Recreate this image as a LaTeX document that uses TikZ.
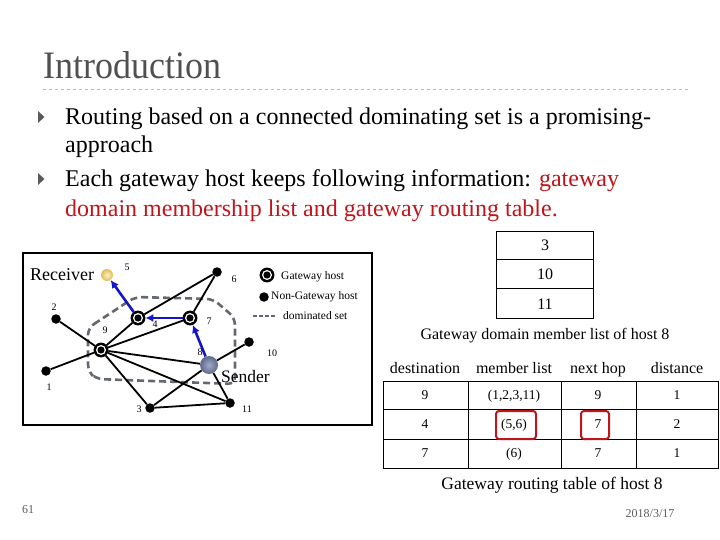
\documentclass[tikz,border=0pt]{standalone}
\usepackage{fontspec}
\setmainfont{Liberation Serif}
\usetikzlibrary{arrows.meta}
\definecolor{titlegray}{RGB}{80,80,80}
\definecolor{slidered}{RGB}{192,20,28}
\definecolor{arrowblue}{RGB}{20,20,200}
\definecolor{domgray}{RGB}{100,104,112}
\definecolor{rulegray}{RGB}{185,185,185}
\definecolor{footgray}{RGB}{90,90,90}
\definecolor{sendin}{RGB}{160,170,200}
\definecolor{sendout}{RGB}{95,105,140}
\definecolor{recin}{RGB}{255,245,200}
\definecolor{recout}{RGB}{225,185,85}
\begin{document}
\begin{tikzpicture}[x=1pt,y=-1pt,
  host/.style={circle,fill=black,inner sep=0pt,minimum size=9.5pt},
  gw/.style={circle,inner sep=0pt,minimum size=13pt,fill=black,draw=black,line width=1.8pt,
    path picture={\fill[white] (path picture bounding box.center) circle (5pt);
                  \fill[black] (path picture bounding box.center) circle (3.6pt);}},
  num/.style={font=\fontsize{10}{12}\selectfont,inner sep=0pt},
  edge/.style={line width=1.8pt,black},
  barrow/.style={line width=2.6pt,arrowblue,-{Latex[length=8pt,width=8pt]}},
  domline/.style={domgray,line width=2.6pt,dash pattern=on 7pt off 4pt},
  bodytext/.style={anchor=base west,inner sep=0pt,font=\fontsize{24}{28}\selectfont},
  cell/.style={anchor=base,font=\fontsize{13.5}{15}\selectfont,inner sep=0pt},
  hdr/.style={anchor=base,font=\fontsize{16}{18}\selectfont,inner sep=0pt},
  redbox/.style={draw=slidered,line width=2pt,rounded corners=3pt}
]
\useasboundingbox (0,0) rectangle (720,540);
% title
\node[anchor=base west,inner sep=0pt,text=titlegray,font=\fontsize{36}{40}\selectfont,yscale=1.08] (title) at (43,79) {Introduction};
\draw[rulegray,dashed,line width=0.8pt] (43,89) -- (688,89);
% bullets
\fill[footgray] (38,111) -- (44.5,117) -- (38,123) -- cycle;
\fill[footgray] (38,173) -- (44.5,179) -- (38,185) -- cycle;
\node[bodytext] (b1) at (65,125) {Routing based on a connected dominating set is a promising-};
\node[bodytext] (b2) at (65,153) {approach};
\node[bodytext] (b3) at (65,187) {Each gateway host keeps following information: \textcolor{slidered}{gateway}};
\node[bodytext,text=slidered] (b4) at (65,216) {domain membership list and gateway routing table.};
% graph frame
\draw[line width=1.8pt] (23,253) rectangle (372,425);
% dominated set region
\draw[domline,rounded corners=7pt] (88,328) -- (135,297) -- (213,299) -- (235,318) -- (235,384) -- (96,379) -- (88,371) -- cycle;
% nodes
\node[circle,inner sep=0pt,minimum size=12pt,inner color=recin,outer color=recout] (n5) at (107,275) {};
\node[host] (n6) at (217,272) {};
\node[gw] (n4) at (138,318) {};
\node[gw] (n7) at (190,318) {};
\node[host] (n2) at (56,319) {};
\node[gw] (n9) at (101,350) {};
\node[host] (n1) at (46,371) {};
\node[circle,inner sep=0pt,minimum size=18pt,inner color=sendin,outer color=sendout] (n8) at (209,365) {};
\node[host] (n10) at (249,342) {};
\node[host] (n3) at (150,408) {};
\node[host] (n11) at (230,403) {};
% edges
\draw[edge] (n2) -- (n9);
\draw[edge] (n1) -- (n9);
\draw[edge] (n9) -- (n4);
\draw[edge] (n9) -- (n7);
\draw[edge] (n9) -- (n8);
\draw[edge] (n9) -- (n3);
\draw[edge] (n9) -- (n11);
\draw[edge] (n4) -- (n6);
\draw[edge] (n7) -- (n6);
\draw[edge] (n8) -- (n10);
\draw[edge] (n8) -- (n3);
\draw[edge] (n8) -- (n11);
\draw[edge] (n3) -- (n11);
% blue route
\draw[barrow] (n8) -- (n7);
\draw[barrow] (n7) -- (n4);
\draw[barrow] (n4) -- (n5);
% labels
\node[anchor=base west,inner sep=0pt,font=\fontsize{18}{20}\selectfont] (recv) at (30,280) {Receiver};
\node[anchor=base west,inner sep=0pt,font=\fontsize{17.5}{20}\selectfont] (send) at (221,382) {Sender};
\node[num] (l5) at (127,267) {5};
\node[num] (l6) at (234,279) {6};
\node[num] (l4) at (155,324) {4};
\node[num] (l7) at (209,321) {7};
\node[num] (l2) at (54,307) {2};
\node[num] (l9) at (105,330) {9};
\node[num] (l1) at (49,387) {1};
\node[num] (l8) at (200,352) {8};
\node[num] (l10) at (272,353) {10};
\node[num] (l3) at (139,409) {3};
\node[num] (l11) at (247,409) {11};
% legend
\node[gw] (lg1) at (267,275) {};
\node[anchor=west,inner sep=0pt,font=\fontsize{11.5}{13}\selectfont] (lt1) at (281,277) {Gateway host};
\node[host] (lg2) at (264,297) {};
\node[anchor=west,inner sep=0pt,font=\fontsize{11.5}{13}\selectfont] (lt2) at (271,297) {Non-Gateway host};
\coordinate (lda) at (253,316);
\coordinate (ldb) at (276,316);
\draw[domgray,line width=1.6pt,dash pattern=on 4pt off 2pt] (lda) -- (ldb);
\node[anchor=west,inner sep=0pt,font=\fontsize{11.5}{13}\selectfont] (lt3) at (283,316) {dominated set};
% member list
\draw[line width=0.8pt] (496,231) rectangle (593,318);
\draw[line width=0.8pt] (496,259) -- (593,259);
\draw[line width=0.8pt] (496,288) -- (593,288);
\node[hdr] (m1) at (545,251) {3};
\node[hdr] (m2) at (545,279) {10};
\node[hdr] (m3) at (545,309) {11};
\node[hdr] (mcap) at (545,339) {Gateway domain member list of host 8};
% routing table
\node[hdr] (h1) at (425,373) {destination};
\node[hdr] (h2) at (514,373) {member list};
\node[hdr] (h3) at (598,373) {next hop};
\node[hdr] (h4) at (677,373) {distance};
\draw[line width=0.8pt] (383,381) rectangle (718,468);
\draw[line width=0.8pt] (383,409) -- (718,409);
\draw[line width=0.8pt] (383,439) -- (718,439);
\draw[line width=0.8pt] (468,381) -- (468,468);
\draw[line width=0.8pt] (561,381) -- (561,468);
\draw[line width=0.8pt] (636,381) -- (636,468);
\node[cell] (c11) at (425,399.5) {9};
\node[cell] (c12) at (514,399.5) {(1,2,3,11)};
\node[cell] (c13) at (598,399.5) {9};
\node[cell] (c14) at (677,399.5) {1};
\node[cell] (c21) at (425,428.5) {4};
\node[cell] (c22) at (514,428.5) {(5,6)};
\node[cell] (c23) at (598,428.5) {7};
\node[cell] (c24) at (677,428.5) {2};
\node[cell] (c31) at (425,457.5) {7};
\node[cell] (c32) at (514,457.5) {(6)};
\node[cell] (c33) at (598,457.5) {7};
\node[cell] (c34) at (677,457.5) {1};
\draw[redbox] (496,411) rectangle (536,439);
\draw[redbox] (581,411) rectangle (609,439);
\node[hdr,font=\fontsize{17.5}{20}\selectfont] (rcap) at (552,489) {Gateway routing table of host 8};
% footer
\node[inner sep=0pt,text=footgray,font=\fontsize{12}{14}\selectfont] (pg) at (28,510) {61};
\node[inner sep=0pt,text=footgray,font=\fontsize{12}{14}\selectfont] (dt) at (650,514) {2018/3/17};
\end{tikzpicture}
\end{document}
